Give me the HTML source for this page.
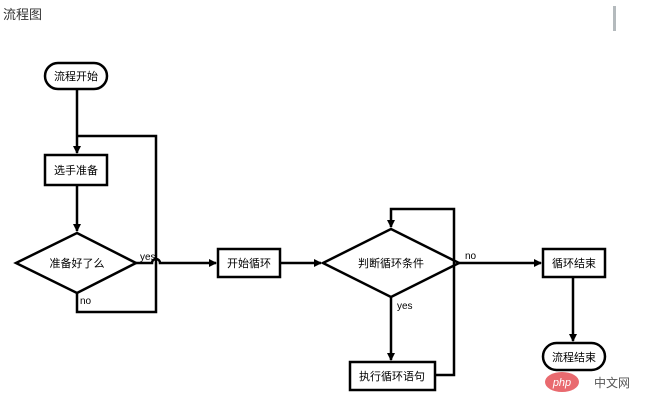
<!DOCTYPE html>
<html><head><meta charset="utf-8"><style>
body{margin:0;background:#fff;width:647px;height:415px;overflow:hidden;font-family:"Liberation Sans","Noto Sans CJK SC",sans-serif}
</style></head><body>
<svg width="647" height="415" xmlns="http://www.w3.org/2000/svg" font-family="Liberation Sans, Noto Sans CJK SC, sans-serif">
<defs><marker id="a" markerWidth="8" markerHeight="8" refX="7" refY="4" orient="auto" markerUnits="userSpaceOnUse"><path d="M0,0 L8,4 L0,8 z" fill="#000"/></marker></defs>
<text x="3" y="19" font-size="13" fill="#333">流程图</text>
<rect x="613" y="6" width="3" height="25" fill="#b4babd"/>
<g stroke="#000" stroke-width="2.5" fill="none">
<rect x="45" y="63" width="62" height="26" rx="13" fill="#fff"/>
<line x1="77" y1="89" x2="77" y2="153" marker-end="url(#a)"/>
<rect x="45" y="155" width="62" height="30" fill="#fff"/>
<line x1="77" y1="185" x2="77" y2="231" marker-end="url(#a)"/>
<polygon points="16,263 77,233 136,263 77,293" fill="#fff"/>
<polyline points="77,293 77,312 156,312 156,136 77,136"/>
<path d="M136,263 L152,263 A4,4 0 0 1 160,263 L216,263" marker-end="url(#a)"/>
<rect x="218" y="249" width="62" height="28" fill="#fff"/>
<line x1="280" y1="263" x2="321" y2="263" marker-end="url(#a)"/>
<polygon points="323,263 391,229 459,263 391,297" fill="#fff"/>
<line x1="391" y1="297" x2="391" y2="360" marker-end="url(#a)"/>
<rect x="350" y="362" width="85" height="28" fill="#fff"/>
<polyline points="435,375 454,375 454,209 391,209 391,227" marker-end="url(#a)"/>
<line x1="459" y1="263" x2="541" y2="263" marker-end="url(#a)"/>
<rect x="543" y="249" width="62" height="28" fill="#fff"/>
<line x1="573" y1="277" x2="573" y2="341" marker-end="url(#a)"/>
<rect x="543" y="343" width="62" height="27" rx="13.5" fill="#fff"/>
</g>
<g font-size="11" fill="#000" text-anchor="middle">
<text x="76" y="80">流程开始</text>
<text x="76" y="174">选手准备</text>
<text x="77" y="267">准备好了么</text>
<text x="249" y="267">开始循环</text>
<text x="391" y="267">判断循环条件</text>
<text x="392" y="380">执行循环语句</text>
<text x="574" y="267">循环结束</text>
<text x="574" y="361">流程结束</text>
</g>
<g font-size="10" fill="#000">
<text x="140" y="260">yes</text>
<text x="80" y="304">no</text>
<text x="397" y="309">yes</text>
<text x="465" y="259">no</text>
</g>
<ellipse cx="562" cy="382" rx="17" ry="10" fill="#e96a6f"/>
<text x="562" y="386" font-size="11" fill="#fff" text-anchor="middle" font-style="italic">php</text>
<text x="594" y="387" font-size="12" fill="#555">中文网</text>
</svg>
</body></html>
